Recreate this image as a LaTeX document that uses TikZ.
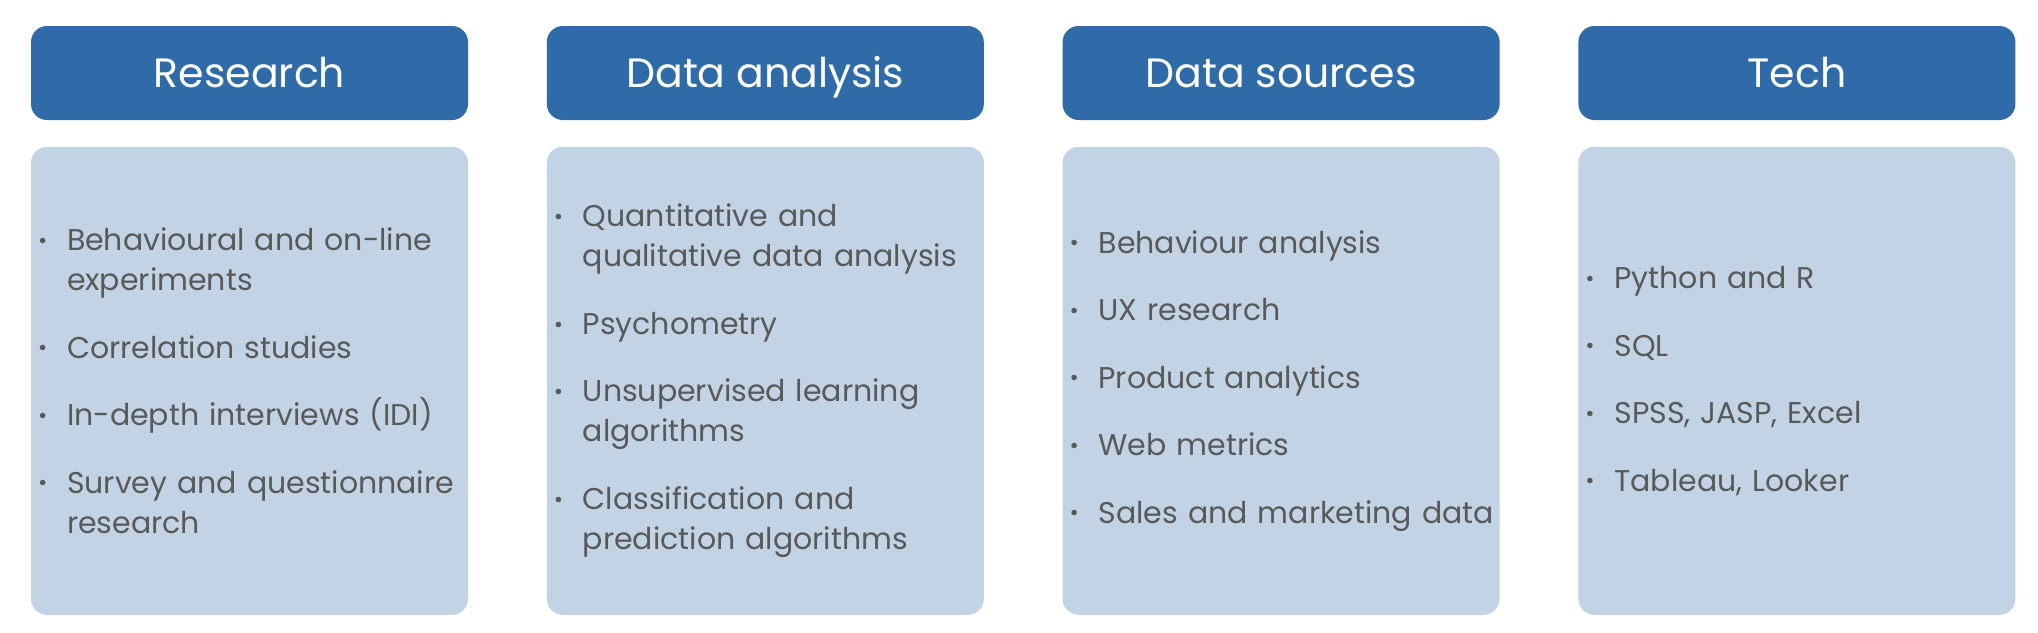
\documentclass[tikz,border=0pt]{standalone}
\usepackage{fontspec}
\setmainfont{Poppins}
\usetikzlibrary{positioning}

\definecolor{headblue}{HTML}{2E6BA8}
\definecolor{bodyblue}{HTML}{C2D3E5}
\definecolor{itemgray}{HTML}{595959}

% bullet and hanging indent for the list lines
\newcommand{\bul}{\makebox[18pt][l]{\hspace{3.5pt}\raisebox{1.2pt}{\scalebox{0.75}{\textbullet}}}}
\newcommand{\ind}{\hspace*{18pt}}

\begin{document}
\begin{tikzpicture}[
    headbox/.style={fill=headblue, rounded corners=8pt, minimum width=218.5pt, minimum height=47pt,
        text=white, font=\fontsize{20.5}{24}\selectfont, inner sep=0pt, text height=14.5pt, text depth=0pt},
    listbox/.style={fill=bodyblue, rounded corners=8pt, minimum width=218.5pt, minimum height=234pt,
        text width=218.5pt, inner sep=0pt, align=left, text=itemgray, font=\fontsize{15}{20}\selectfont}
    ]
        % Fix the page size
        \useasboundingbox (0,0) rectangle (1019pt,-316pt);

        % Column headers
        \node[headbox] (research) at (124.75pt,-36.5pt) {Research};
        \node[headbox, right=39pt of research] (analysis) {Data analysis};
        \node[headbox, right=39pt of analysis] (sources) {Data sources};
        \node[headbox, right=39pt of sources] (tech) {Tech};

        % Lists under the headers
        \node[listbox, below=13pt of research] (researchlist) {%
            \bul Behavioural and on-line\\
            \ind experiments\\[13.75pt]
            \bul Correlation studies\\[13.75pt]
            \bul In-depth interviews (IDI)\\[13.75pt]
            \bul Survey and questionnaire\\
            \ind research};
        \node[listbox, below=13pt of analysis] (analysislist) {%
            \bul Quantitative and\\
            \ind qualitative data analysis\\[13.75pt]
            \bul Psychometry\\[13.75pt]
            \bul Unsupervised learning\\
            \ind algorithms\\[13.75pt]
            \bul Classification and\\
            \ind prediction algorithms};
        \node[listbox, below=13pt of sources] (sourceslist) {%
            \bul Behaviour analysis\\[13.75pt]
            \bul UX research\\[13.75pt]
            \bul Product analytics\\[13.75pt]
            \bul Web metrics\\[13.75pt]
            \bul Sales and marketing data};
        \node[listbox, below=13pt of tech] (techlist) {%
            \bul Python and R\\[13.75pt]
            \bul SQL\\[13.75pt]
            \bul SPSS, JASP, Excel\\[13.75pt]
            \bul Tableau, Looker};
    \end{tikzpicture}
\end{document}
